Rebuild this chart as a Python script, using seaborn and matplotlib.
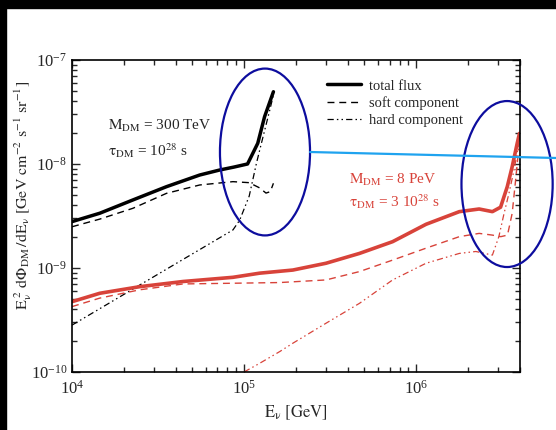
import numpy as np
import pandas as pd
import seaborn as sns
import matplotlib.pyplot as plt
from matplotlib.patches import Ellipse, Rectangle
from matplotlib.lines import Line2D

# neutrino energy [GeV] and E^2 dPhi/dE [GeV cm^-2 s^-1 sr^-1]
# M_DM = 300 TeV, tau = 1e28 s (black)
bk_total_E = [1e4, 1.45e4, 2.26e4, 3.54e4, 5.52e4, 7.21e4, 8.71e4, 1.047e5, 1.2e5, 1.315e5, 1.48e5]
bk_total_F = [2.79e-9, 3.36e-9, 4.51e-9, 6.05e-9, 7.83e-9, 8.75e-9, 9.33e-9, 1.0e-8, 1.58e-8, 2.85e-8, 4.95e-8]

bk_soft_E = [1e4, 1.45e4, 2.26e4, 3.54e4, 5.52e4, 8.61e4, 1.07e5, 1.23e5, 1.34e5, 1.42e5, 1.48e5]
bk_soft_F = [2.49e-9, 2.95e-9, 3.75e-9, 5.22e-9, 6.28e-9, 6.76e-9, 6.61e-9, 5.89e-9, 5.25e-9, 5.42e-9, 6.52e-9]

bk_hard_E = [1e4, 3.16e4, 8.61e4, 9.42e4, 1.07e5, 1.18e5, 1.26e5, 1.41e5, 1.48e5]
bk_hard_F = [2.82e-10, 8.71e-10, 2.32e-9, 2.88e-9, 4.9e-9, 1.02e-8, 1.58e-8, 3.31e-8, 4.6e-8]

# M_DM = 8 PeV, tau = 3e28 s (red)
rd_total_E = [1e4, 1.45e4, 2.48e4, 4.42e4, 8.61e4, 1.23e5, 1.92e5, 2.99e5, 4.68e5, 7.29e5,
              1.14e6, 1.78e6, 2.32e6, 2.77e6, 3.09e6, 3.38e6, 3.61e6, 3.86e6, 3.98e6]
rd_total_F = [4.74e-10, 5.71e-10, 6.61e-10, 7.41e-10, 8.13e-10, 8.91e-10, 9.55e-10, 1.11e-9, 1.38e-9, 1.79e-9,
              2.63e-9, 3.48e-9, 3.69e-9, 3.48e-9, 3.84e-9, 6.05e-9, 9.42e-9, 1.58e-8, 1.97e-8]

rd_soft_E = [1e4, 1.45e4, 2.48e4, 4.42e4, 8.61e4, 1.61e5, 2.99e5, 4.68e5, 7.29e5, 1.14e6,
             1.78e6, 2.32e6, 2.77e6, 3.1e6, 3.39e6, 3.61e6, 3.78e6, 3.94e6]
rd_soft_F = [4.25e-10, 5.13e-10, 6.17e-10, 7.02e-10, 7.13e-10, 7.24e-10, 7.67e-10, 9.23e-10, 1.19e-9, 1.55e-9,
             2.0e-9, 2.15e-9, 2.07e-9, 2.0e-9, 2.07e-9, 3.36e-9, 7.02e-9, 1.41e-8]

rd_hard_E = [1.0e5, 1.23e5, 1.61e5, 1.92e5, 2.99e5, 4.68e5, 7.29e5, 1.14e6, 1.78e6, 2.22e6,
             2.77e6, 3.02e6, 3.24e6, 3.46e6, 3.7e6, 3.95e6]
rd_hard_F = [1.0e-10, 1.21e-10, 1.57e-10, 1.89e-10, 2.94e-10, 4.57e-10, 7.67e-10, 1.11e-9, 1.38e-9, 1.44e-9,
             1.33e-9, 2.0e-9, 3.36e-9, 5.25e-9, 8.75e-9, 1.58e-8]

legend_labels = ["total flux", "soft component", "hard component"]

sns.set_style("ticks")
plt.rcParams['font.family'] = ['Liberation Serif', 'DejaVu Serif']
plt.rcParams['mathtext.fontset'] = 'stix'

red = "#d8433a"
dashed = (0, (5, 3.5))
dashdotdot = (0, (5, 2.5, 1.2, 2.5, 1.2, 2.5))

fig = plt.figure(figsize=(5.56, 4.30), dpi=100)
ax = fig.add_axes([0.1295, 0.135, 0.8055, 0.7255])
ax.set_xscale("log")
ax.set_yscale("log")

# black: 300 TeV
sns.lineplot(x=bk_total_E, y=bk_total_F, ax=ax, color="black", linewidth=2.5, sort=False, estimator=None)
sns.lineplot(x=bk_soft_E, y=bk_soft_F, ax=ax, color="black", linewidth=1.0, linestyle=dashed, sort=False, estimator=None)
sns.lineplot(x=bk_hard_E, y=bk_hard_F, ax=ax, color="black", linewidth=0.9, linestyle=dashdotdot, sort=False, estimator=None)

# red: 8 PeV
sns.lineplot(x=rd_total_E, y=rd_total_F, ax=ax, color=red, linewidth=2.6, sort=False, estimator=None)
sns.lineplot(x=rd_soft_E, y=rd_soft_F, ax=ax, color=red, linewidth=1.0, linestyle=dashed, sort=False, estimator=None)
sns.lineplot(x=rd_hard_E, y=rd_hard_F, ax=ax, color=red, linewidth=0.9, linestyle=dashdotdot, sort=False, estimator=None)

ax.set_xlim(1e4, 4e6)
ax.set_ylim(1e-10, 1e-7)

ax.tick_params(which="both", direction="in", top=True, right=True, labelsize=12, width=1.0)
ax.tick_params(which="major", length=6)
ax.tick_params(which="minor", length=3.5)
ax.tick_params(axis="x", pad=6)
for s in ax.spines.values():
    s.set_linewidth(1.2)
    s.set_color("black")

ax.set_xlabel(r"$\mathrm{E_\nu\ [GeV]}$", fontsize=12)
ax.set_ylabel(r"$\mathrm{E_\nu^{\ 2}\ d\Phi_{DM}\,/dE_\nu\ [GeV\ cm^{-2}\ s^{-1}\ sr^{-1}]}$", fontsize=11.5)
ax.yaxis.set_label_coords(-0.085, 0.565)

# legend with the three line styles
handles = [Line2D([], [], color="black", linewidth=2.5),
           Line2D([], [], color="black", linewidth=1.0, linestyle=dashed),
           Line2D([], [], color="black", linewidth=0.9, linestyle=dashdotdot)]
ax.legend(handles, legend_labels, loc="upper left", bbox_to_anchor=(0.54, 0.98), frameon=False,
          fontsize=10.5, handlelength=2.3, handletextpad=0.6, labelspacing=0.25)

ax.text(0.08, 0.79, r"$\mathrm{M_{DM}}$ = 300 TeV", transform=ax.transAxes, fontsize=11, va="center")
ax.text(0.08, 0.71, r"$\mathrm{\tau_{DM}}$ = 10$^{28}$ s", transform=ax.transAxes, fontsize=11, va="center")
ax.text(0.618, 0.615, r"$\mathrm{M_{DM}}$ = 8 PeV", transform=ax.transAxes, fontsize=11, va="center", color=red)
ax.text(0.618, 0.545, r"$\mathrm{\tau_{DM}}$ = 3 10$^{28}$ s", transform=ax.transAxes, fontsize=11, va="center", color=red)

# blue hand-drawn marks on top of the figure
navy = "#0d0d9e"
fig.add_artist(Ellipse((0.4766, 0.6465), 0.162, 0.388, transform=fig.transFigure,
                       fill=False, edgecolor=navy, linewidth=1.6, zorder=10))
fig.add_artist(Ellipse((0.912, 0.572), 0.164, 0.386, transform=fig.transFigure,
                       fill=False, edgecolor=navy, linewidth=1.6, zorder=10))
fig.add_artist(Line2D([0.5576, 1.0], [0.6465, 0.6326], transform=fig.transFigure,
                      color="#1fa3ef", linewidth=1.6, zorder=10))

# black borders of the screenshot
fig.add_artist(Rectangle((0, 1 - 8 / 430), 1, 8 / 430, transform=fig.transFigure, color="black", zorder=20))
fig.add_artist(Rectangle((0, 0), 6 / 556, 1, transform=fig.transFigure, color="black", zorder=20))

fig.savefig("out.png", dpi=100)
